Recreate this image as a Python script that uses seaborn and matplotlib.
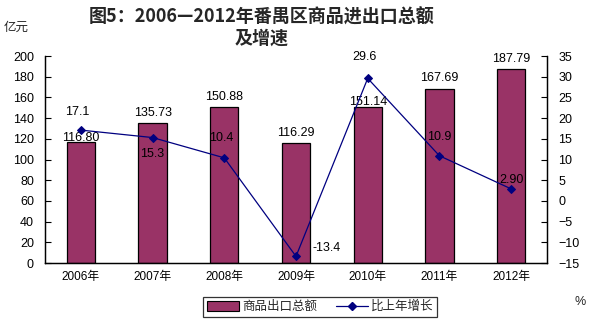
import matplotlib
matplotlib.use("Agg")
import matplotlib.pyplot as plt
import seaborn as sns
import numpy as np
import pandas as pd
from matplotlib.patches import Patch
from matplotlib.lines import Line2D

years = ["2006年", "2007年", "2008年", "2009年", "2010年", "2011年", "2012年"]
exports = [116.80, 135.73, 150.88, 116.29, 151.14, 167.69, 187.79]
export_labels = ["116.80", "135.73", "150.88", "116.29", "151.14", "167.69", "187.79"]
growth = [17.1, 15.3, 10.4, -13.4, 29.6, 10.9, 2.90]
growth_labels = ["17.1", "15.3", "10.4", "-13.4", "29.6", "10.9", "2.90"]
left_ticks = [0, 20, 40, 60, 80, 100, 120, 140, 160, 180, 200]
right_ticks = [-15, -10, -5, 0, 5, 10, 15, 20, 25, 30, 35]

# label placement offsets in pixels (layout, not data)
bar_lab_off = [4, 10, 10, 10, 5, 11, 10]
line_lab_off = [(-4, 18), (0, -16), (-3, 20), (31, 8), (-3, 21), (0, 19), (0, 9)]

sns.set_theme(style="white")
plt.rcParams['font.family'] = ['Liberation Sans', 'Noto Sans CJK SC', 'DejaVu Sans']

BAR = "#993366"
LINE = "#000080"

fig = plt.figure(figsize=(5.93, 3.22), dpi=100)
ax = fig.add_axes([45/593, 1-263/322, 502/593, 207/322])

df = pd.DataFrame({"year": years, "exports": exports})
sns.barplot(data=df, x="year", y="exports", color=BAR, saturation=1,
            width=0.395, edgecolor="black", linewidth=0.9, ax=ax)

ax.set_ylim(0, 200)
ax.set_yticks(left_ticks)
ax.set_xlim(-0.5, len(years) - 0.5)
ax.set_xlabel("")
ax.set_ylabel("")

ax2 = ax.twinx()
xpos = np.arange(len(years))
sns.lineplot(x=xpos, y=growth, color=LINE, linewidth=0.9, marker="D",
             markersize=4.5, markeredgecolor=LINE, ax=ax2)
ax2.set_ylim(-15, 35)
ax2.set_yticks(right_ticks)

for i, (v, lab) in enumerate(zip(exports, export_labels)):
    ax.annotate(lab, (i, v), xytext=(0, bar_lab_off[i]), textcoords="offset pixels",
                ha="center", va="center", fontsize=9, color="black")
for i, (v, lab) in enumerate(zip(growth, growth_labels)):
    dx, dy = line_lab_off[i]
    ax2.annotate(lab, (i, v), xytext=(dx, dy), textcoords="offset pixels",
                 ha="center", va="center", fontsize=9, color="black")

for a in (ax, ax2):
    for s in a.spines.values():
        s.set_color("black")
        s.set_linewidth(0.9)
    a.spines["top"].set_visible(False)
    a.grid(False)

ax.tick_params(axis="y", direction="in", length=4, width=0.8, labelsize=9, pad=8, colors="black")
ax2.tick_params(axis="y", direction="in", length=4, width=0.8, labelsize=9, pad=8, colors="black")
ax.set_xticks(np.arange(len(years)))
ax.set_xticklabels(years)
ax.tick_params(axis="x", length=0, labelsize=8.5, pad=6, colors="black")
# minor ticks between categories
ax.set_xticks(np.arange(-0.5, len(years), 1), minor=True)
ax.tick_params(axis="x", which="minor", direction="in", length=4, width=0.8)

fig.text(262/593, 1-17/322, "图5：2006—2012年番禺区商品进出口总额", ha="center", va="center",
         fontsize=13, fontweight="bold", family=['Noto Sans CJK SC', 'DejaVu Sans'])
fig.text(262/593, 1-38/322, "及增速", ha="center", va="center",
         fontsize=13, fontweight="bold", family=['Noto Sans CJK SC', 'DejaVu Sans'])
fig.text(4/593, 1-28/322, "亿元", ha="left", va="center", fontsize=9)
fig.text(580/593, 1-302/322, "%", ha="center", va="center", fontsize=9)

handles = [Patch(facecolor=BAR, edgecolor="black", linewidth=0.8),
           Line2D([0], [0], color=LINE, lw=0.9, marker="D", markersize=4.5)]
leg = fig.legend(handles, ["商品出口总额", "比上年增长"], loc="center",
                 bbox_to_anchor=(320/593, 1-307/322), ncol=2, frameon=True,
                 fancybox=False, edgecolor="black", fontsize=9, handlelength=2.6,
                 handleheight=0.9, columnspacing=1.5, handletextpad=0.2,
                 borderpad=0.3)
leg.get_frame().set_linewidth(0.9)

fig.savefig("out.png", dpi=100)
